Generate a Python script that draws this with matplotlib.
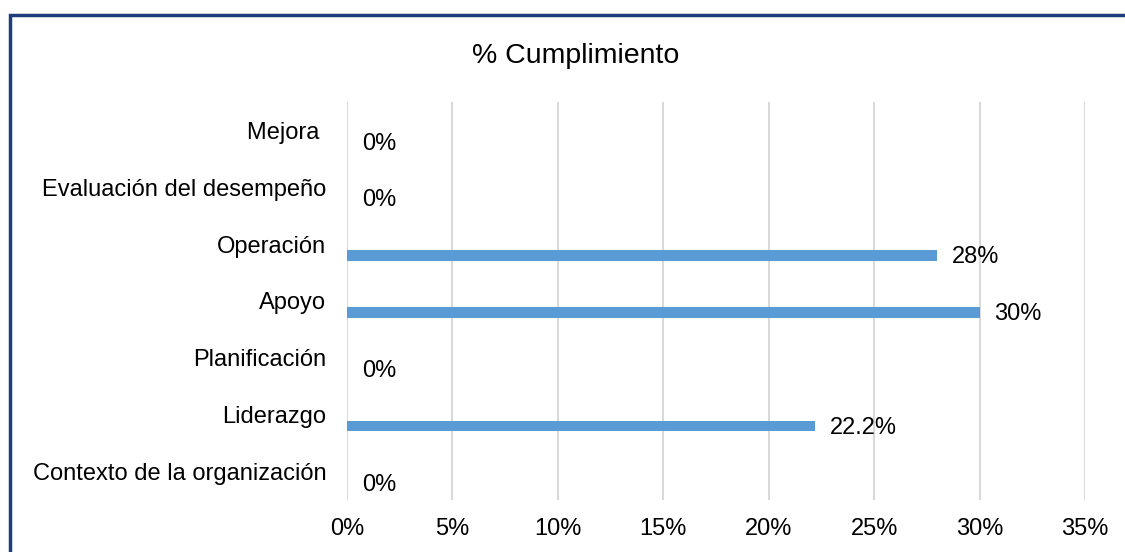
import matplotlib.pyplot as plt
from matplotlib.patches import Rectangle
from matplotlib.ticker import FuncFormatter

plt.rcParams['font.family'] = ['Liberation Sans', 'DejaVu Sans']

# categories bottom to top
categories = ["Contexto de la organización", "Liderazgo", "Planificación",
              "Apoyo", "Operación", "Evaluación del desempeño", "Mejora "]
values = [0.0, 22.2, 0.0, 30.0, 28.0, 0.0, 0.0]
labels = ["0%", "22.2%", "0%", "30%", "28%", "0%", "0%"]
xticks = [0, 5, 10, 15, 20, 25, 30, 35]

bar_color = "#5B9BD5"
grid_color = "#D9D9D9"

fig = plt.figure(figsize=(11.25, 5.52), dpi=100)
ax = fig.add_axes([347 / 1125, 1 - 500 / 552, 738 / 1125, 398 / 552])

ypos = list(range(len(categories)))
bar_y = [y - 0.2 for y in ypos]
ax.barh(bar_y, values, height=0.19, color=bar_color, zorder=3)

for y, v, lab in zip(bar_y, values, labels):
    ax.text(v + 0.7, y - 0.03, lab, va="center", ha="left", fontsize=17, color="#000000")

ax.set_xlim(0, 35)
ax.set_ylim(-0.5, len(categories) - 0.5)
ax.set_xticks(xticks)
ax.xaxis.set_major_formatter(FuncFormatter(lambda v, p: f"{v:.0f}%"))
ax.set_yticks(ypos)
ax.set_yticklabels(categories)
ax.tick_params(axis="both", length=0, labelsize=17, colors="#000000")
ax.tick_params(axis="y", pad=15)
ax.tick_params(axis="x", pad=13)

ax.grid(axis="x", color=grid_color, linewidth=1.5, zorder=0)
for s in ax.spines.values():
    s.set_visible(False)

fig.text(576 / 1125, 1 - 56 / 552, "% Cumplimiento", ha="center", va="center", fontsize=20.5)

# outer chart border (extends past right and bottom edges)
fig.patches.append(Rectangle((10 / 1125, -0.1), 1.2, 1 - 15 / 552 + 0.1,
                             transform=fig.transFigure, fill=False,
                             edgecolor="#1F3D7A", linewidth=2.5))

fig.savefig("out.png", dpi=100)
